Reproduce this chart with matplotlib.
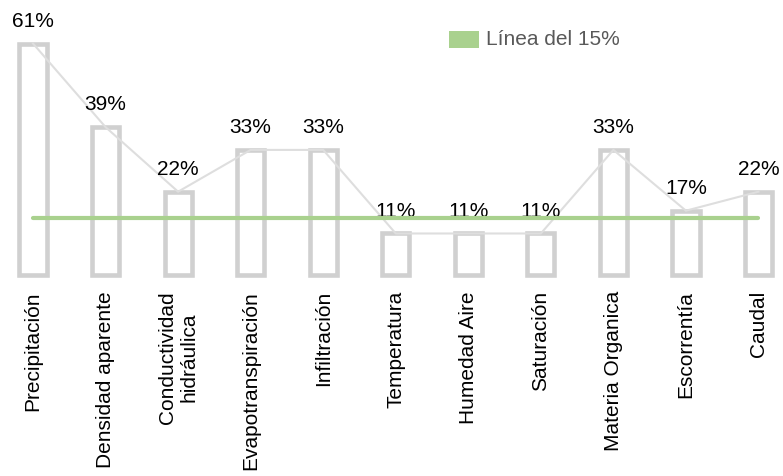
import matplotlib
matplotlib.use('Agg')
import matplotlib.pyplot as plt
from matplotlib.patches import Rectangle

categories = ['Precipitación', 'Densidad aparente', 'Conductividad\nhidráulica',
              'Evapotranspiración', 'Infiltración', 'Temperatura', 'Humedad Aire',
              'Saturación', 'Materia Organica', 'Escorrentía', 'Caudal']
percentages = [61, 39, 22, 33, 33, 11, 11, 11, 33, 17, 22]
threshold = 15
threshold_label = 'Línea del 15%'

plt.rcParams['font.family'] = ['Liberation Sans', 'DejaVu Sans']

W, H = 783, 476
fig = plt.figure(figsize=(W / 100, H / 100), dpi=100)
ax_bottom_px = 280
ax = fig.add_axes([0, (H - ax_bottom_px) / H, 1, ax_bottom_px / H])

x = list(range(len(categories)))
ax.bar(x, percentages, width=0.375, facecolor='none', edgecolor='#d0d0d0',
       linewidth=3.3, zorder=2)
ax.plot(x, percentages, color='#dedede', linewidth=1.5, zorder=3)
ax.plot([x[0], x[-1]], [threshold, threshold], color='#a9d18e', linewidth=3,
        solid_capstyle='round', zorder=4)

for xi, v in zip(x, percentages):
    ax.annotate(f'{v}%', (xi, v), xytext=(0, 9.2), textcoords='offset points',
                ha='center', va='bottom', fontsize=15, color='black')

ax.set_xlim(-0.455, 10.338)
ax.set_ylim(-1.24, 72.45)
ax.set_xticks(x)
ax.set_xticklabels(categories, rotation=90, fontsize=15, va='top', ha='center')
ax.tick_params(axis='x', length=0, pad=8)
ax.set_yticks([])
for s in ax.spines.values():
    s.set_visible(False)

# legend entry for the threshold line
fig.add_artist(Rectangle((449 / W, 1 - 47.5 / H), 29.5 / W, 16.5 / H,
                         transform=fig.transFigure, facecolor='#a9d18e',
                         edgecolor='none'))
fig.text(486 / W, 1 - 45 / H, threshold_label, ha='left', va='baseline',
         fontsize=15, color='#595959')

fig.savefig('out.png', dpi=100)
